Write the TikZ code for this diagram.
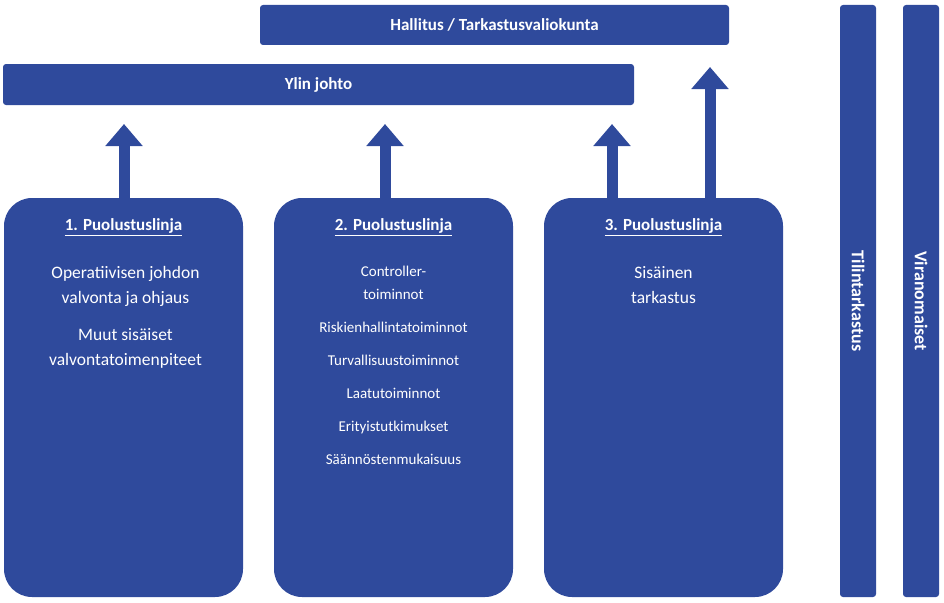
\documentclass[tikz,border=0pt]{standalone}
\usepackage{fontspec}
\setmainfont{Carlito}
\usetikzlibrary{arrows.meta}
\definecolor{lineblue}{HTML}{2F4A9C}
\tikzset{
  bar/.style={fill=lineblue, rounded corners=3pt, text=white, font=\bfseries\fontsize{17}{20}\selectfont},
  linebox/.style={fill=lineblue, rounded corners=28pt},
  up/.style={lineblue, line width=11pt, -{Triangle[width=36pt,length=22pt]}},
}
\begin{document}
\begin{tikzpicture}[x=1pt,y=-1pt]
    \useasboundingbox (0,0) rectangle (944,602);
    % top bars
    \path[bar] (260,5) rectangle (729,45);
    \node[text=white, font=\bfseries\fontsize{17}{20}\selectfont] (board) at (494.5,25) {Hallitus / Tarkastusvaliokunta};
    \path[bar] (3,64) rectangle (634,105);
    \node[text=white, font=\bfseries\fontsize{17}{20}\selectfont] (mgmt) at (318.5,85) {Ylin johto};
    % vertical bars
    \path[bar] (840,5) rectangle (876,597);
    \node[rotate=-90, text=white, font=\bfseries\fontsize{18}{20}\selectfont] (audit) at (858,301) {Tilintarkastus};
    \path[bar] (903,5) rectangle (939,597);
    \node[rotate=-90, text=white, font=\bfseries\fontsize{18}{20}\selectfont] (auth) at (921,301) {Viranomaiset};
    % lines of defence
    \path[linebox] (4,198) rectangle (243,597);
    \path[linebox] (274,198) rectangle (513,597);
    \path[linebox] (544,198) rectangle (783,597);
    \node[text=white, font=\bfseries\fontsize{17}{20}\selectfont] (t1) at (123.5,227) {\underline{1. Puolustuslinja}};
    \node[text=white, font=\bfseries\fontsize{17}{20}\selectfont] (t2) at (393.5,227) {\underline{2. Puolustuslinja}};
    \node[text=white, font=\bfseries\fontsize{17}{20}\selectfont] (t3) at (663.5,227) {\underline{3. Puolustuslinja}};
    \node[text=white, align=center, font=\fontsize{17.5}{25}\selectfont, anchor=north] (l1) at (125.5,263)
      {Operatiivisen johdon\\valvonta ja ohjaus\\[12pt]Muut sisäiset\\valvontatoimenpiteet};
    \node[text=white, align=center, font=\fontsize{15}{23}\selectfont, anchor=north] (l2) at (393.5,263)
      {Controller-\\toiminnot\\[10pt]Riskienhallintatoiminnot\\[10pt]Turvallisuustoiminnot\\[10pt]Laatutoiminnot\\[10pt]Erityistutkimukset\\[10pt]Säännöstenmukaisuus};
    \node[text=white, align=center, font=\fontsize{17.5}{25}\selectfont, anchor=north] (l3) at (663.5,263)
      {Sisäinen\\tarkastus};
    % arrows
    \draw[up] (124,198) -- (124,124);
    \draw[up] (385,198) -- (385,124);
    \draw[up] (612,198) -- (612,124);
    \draw[up] (710,198) -- (710,67);
\end{tikzpicture}
\end{document}
